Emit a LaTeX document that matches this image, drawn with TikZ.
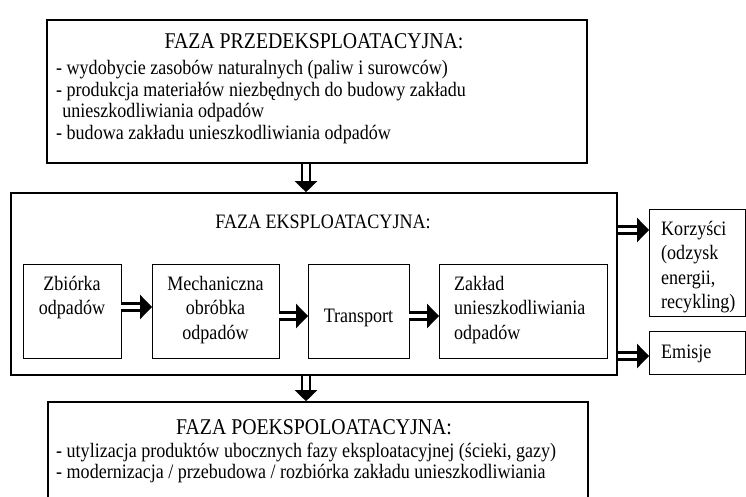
\documentclass[tikz,border=0pt]{standalone}
\usepackage{fontspec}
\setmainfont[FakeStretch=0.88]{Liberation Serif}
\usetikzlibrary{arrows.meta}
\begin{document}
\begin{tikzpicture}[x=1pt, y=-1pt,
  thickbox/.style={draw, line width=2.6pt, inner sep=0pt},
  thinbox/.style={draw, line width=0.9pt, inner sep=0pt},
  txt/.style={inner sep=0pt, font=\fontsize{20.5}{24.5}\selectfont},
  toptxt/.style={inner sep=0pt, font=\fontsize{20.5}{21.5}\selectfont},
  bigtitle/.style={inner sep=0pt, font=\fontsize{22.5}{24}\selectfont},
  blk/.style={double=white, line width=2.3pt, double distance=4.8pt,
    -{Triangle[length=12pt, width=24pt]}, shorten >=-0.5pt},
  blkdown/.style={double=white, line width=2.5pt, double distance=5.5pt,
    -{Triangle[length=11pt, width=22pt]}, shorten >=-0.5pt}]
\useasboundingbox (0,0) rectangle (746,497);
\clip (0,0) rectangle (746,497);
\fill[white] (0,0) rectangle (746,497);

% phase boxes
\node[thickbox, minimum width=540pt, minimum height=143pt] (pre) at (317,91.5) {};
\node[thickbox, minimum width=606pt, minimum height=182pt] (ekspl) at (314,284) {};
\node[thickbox, minimum width=540pt, minimum height=128pt] (post) at (318,466) {};

% process steps inside the operating phase
\node[thinbox, minimum width=98pt,  minimum height=94pt] (zb)   at (72,311) {};
\node[thinbox, minimum width=127pt, minimum height=94pt] (mech) at (215.5,311) {};
\node[thinbox, minimum width=101pt, minimum height=94pt] (tr)   at (358.5,311) {};
\node[thinbox, minimum width=168pt, minimum height=94pt] (zk)   at (523,311) {};

% outputs
\node[thinbox, minimum width=96pt, minimum height=107pt] (kor) at (697,262.5) {};
\node[thinbox, minimum width=96pt, minimum height=43pt]  (emi) at (697,352.5) {};

% texts of the pre-operating phase
\node[bigtitle, anchor=base] (pretitle) at (314,49) {FAZA PRZEDEKSPLOATACYJNA:};
\node[toptxt, anchor=base west] (prelist) at (56,75) {\begin{tabular}[t]{@{}l@{}}
- wydobycie zasobów naturalnych (paliw i surowców)\\
- produkcja materiałów niezbędnych do budowy zakładu\\
\hspace*{0.3em}unieszkodliwiania odpadów\\
- budowa zakładu unieszkodliwiania odpadów\end{tabular}};

% operating phase
\node[txt, anchor=base] (ekspltitle) at (323,228) {FAZA EKSPLOATACYJNA:};
\node[txt, anchor=base] (zbtxt) at (72,290) {\begin{tabular}[t]{@{}c@{}}Zbiórka\\odpadów\end{tabular}};
\node[txt, anchor=base] (mechtxt) at (215.5,290) {\begin{tabular}[t]{@{}c@{}}Mechaniczna\\obróbka\\odpadów\end{tabular}};
\node[txt, anchor=base] (trtxt) at (358.5,322) {Transport};
\node[txt, anchor=base west] (zktxt) at (454,290) {\begin{tabular}[t]{@{}l@{}}Zakład\\unieszkodliwiania\\odpadów\end{tabular}};
\node[txt, anchor=base west] (kortxt) at (661,235) {\begin{tabular}[t]{@{}l@{}}Korzyści\\(odzysk\\energii,\\recykling)\end{tabular}};
\node[txt, anchor=base west] (emitxt) at (661,358) {Emisje};

% post-operating phase
\node[bigtitle, anchor=base] (posttitle) at (314,434) {FAZA POEKSPOLOATACYJNA:};
\node[toptxt, anchor=base west] (postlist) at (56,457) {\begin{tabular}[t]{@{}l@{}}
- utylizacja produktów ubocznych fazy eksploatacyjnej (ścieki, gazy)\\
- modernizacja / przebudowa / rozbiórka zakładu unieszkodliwiania\end{tabular}};

% block arrows
\coordinate (downx) at (306,0);
\draw[blkdown] (pre.south -| downx) -- (ekspl.north -| downx);
\draw[blkdown] (ekspl.south -| downx) -- (post.north -| downx);
\coordinate (row1) at (0,307);
\coordinate (row2) at (0,316);
\draw[blk] (zb.east |- row1) -- (mech.west |- row1);
\draw[blk] (mech.east |- row2) -- (tr.west |- row2);
\draw[blk] (tr.east |- row2) -- (zk.west |- row2);
\coordinate (korrow) at (0,230);
\coordinate (emirow) at (0,356);
\draw[blk] (ekspl.east |- korrow) -- (kor.west |- korrow);
\draw[blk] (ekspl.east |- emirow) -- (emi.west |- emirow);
\end{tikzpicture}
\end{document}
